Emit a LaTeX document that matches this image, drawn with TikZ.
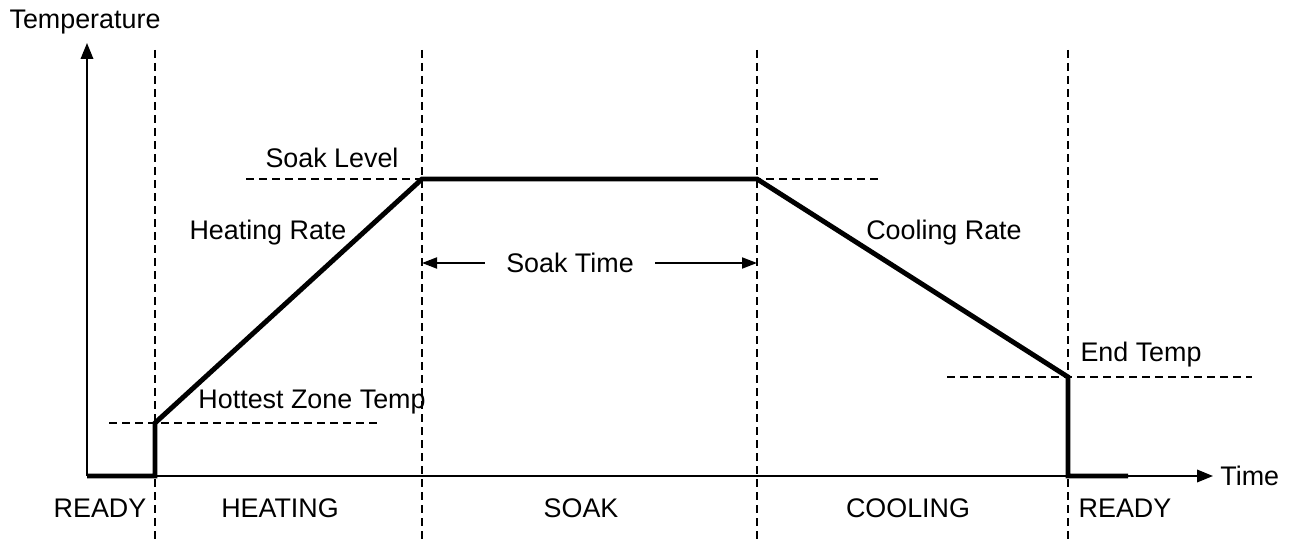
\documentclass[tikz,border=0pt]{standalone}
\usepackage{fontspec}
\setmainfont{Liberation Sans}
\usetikzlibrary{positioning,arrows.meta}

\begin{document}
\begin{tikzpicture}[
    x=0.02cm, y=-0.02cm,
    lbl/.style={inner sep=0pt, font=\fontsize{15.3pt}{17pt}\selectfont},
    axisline/.style={draw=black, line width=1.1pt, -{Triangle[length=0.32cm, width=0.25cm]}},
    guide/.style={draw=black, line width=0.8pt, dash pattern=on 4.4pt off 3pt},
    profile/.style={draw=black, line width=2.8pt, line join=miter},
    spanarrow/.style={draw=black, line width=1.1pt, -{Triangle[length=0.3cm, width=0.22cm]}}
    ]
        \useasboundingbox (0,0) rectangle (1293,540);

        %Coordinates
        \coordinate (o)     at (87,476);
        \coordinate (ytop)  at (87,43);
        \coordinate (xend)  at (1213,476);
        \coordinate (start) at (155,476);
        \coordinate (hot)   at (155,423);
        \coordinate (soakA) at (422,179);
        \coordinate (soakB) at (757,179);
        \coordinate (endT)  at (1068,377);
        \coordinate (drop)  at (1068,476);
        \coordinate (stop)  at (1128,476);

        %Labels
        \node[lbl] (temp)    at (85,22)   {Temperature};
        \node[lbl] (time)    [right=4pt of xend] {Time};
        \node[lbl] (slevel)  at (332,158) {Soak Level};
        \node[lbl] (hrate)   at (268,233) {Heating Rate};
        \node[lbl] (crate)   at (944,233) {Cooling Rate};
        \node[lbl] (etemp)   at (1141,355) {End Temp};
        \node[lbl] (hzone)   at (312,402) {Hottest Zone Temp};
        \node[lbl] (stime)   at (570,263) {Soak Time};
        \node[lbl] (ready1)  at (100,508) {READY};
        \node[lbl] (heating) at (280,508) {HEATING};
        \node[lbl] (soak)    at (581,508) {SOAK};
        \node[lbl] (cooling) at (908,508) {COOLING};
        \node[lbl] (ready2)  at (1125,508) {READY};

        %Phase borders
        \foreach \x in {155,422,757,1068}
            \draw[guide] (\x,50) -- (\x,540);

        %Level guides
        \draw[guide] (246,179) -- (883,179);
        \draw[guide] (109,423) -- (380,423);
        \draw[guide] (947,377) -- (1252,377);

        %Axes
        \draw[axisline] (o) -- (ytop);
        \draw[axisline] (o) -- (xend);

        %Profile
        \draw[profile] (o) -- (start) -- (hot) -- (soakA) -- (soakB)
            -- (endT) -- (drop) -- (stop);

        %Soak time span
        \draw[spanarrow] ([xshift=-12pt]stime.west) -- (soakA |- stime);
        \draw[spanarrow] ([xshift=12pt]stime.east) -- (soakB |- stime);
    \end{tikzpicture}
\end{document}
